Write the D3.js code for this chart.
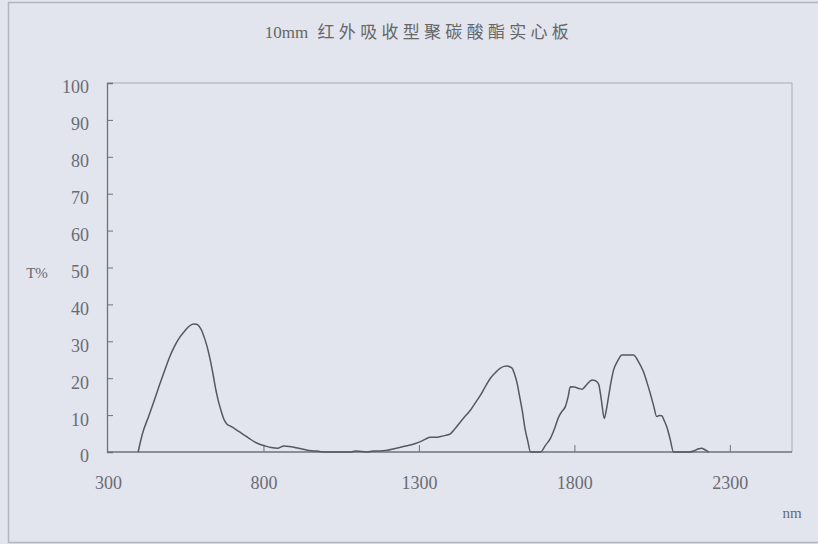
<!DOCTYPE html>
<html>
<head>
<meta charset="utf-8">
<script src="https://cdn.jsdelivr.net/npm/d3@7/dist/d3.min.js"></script>
<style>
  html, body { margin: 0; padding: 0; background: #e3e5ee; }
  svg { display: block; }
</style>
</head>
<body>
<svg id="chart" width="818" height="544"></svg>
<script>
const titlePrefix = "10mm";
const titleText = "红外吸收型聚碳酸酯实心板";
const xTicks = [300, 800, 1300, 1800, 2300];
const yTicks = [0, 10, 20, 30, 40, 50, 60, 70, 80, 90, 100];
const xLabel = "nm";
const yLabel = "T%";

const wavelength = [397, 411, 430, 449, 465, 481, 497, 513, 530, 545, 560, 575, 585, 593, 601, 609, 619, 629, 638, 647, 655, 663, 672, 682, 694, 706, 722, 738, 754, 770, 788, 807, 825, 845, 866, 882, 898, 920, 941, 962, 984, 1000, 1050, 1080, 1096, 1110, 1130, 1155, 1175, 1198, 1220, 1241, 1257, 1273, 1289, 1305, 1321, 1337, 1353, 1370, 1386, 1402, 1418, 1434, 1450, 1466, 1482, 1498, 1514, 1530, 1546, 1562, 1574, 1584, 1592, 1600, 1608, 1616, 1624, 1632, 1642, 1650, 1659, 1675, 1691, 1707, 1723, 1737, 1750, 1760, 1771, 1780, 1787, 1800, 1812, 1825, 1840, 1857, 1868, 1878, 1887, 1896, 1903, 1910, 1918, 1926, 1940, 1953, 1970, 1990, 2006, 2022, 2033, 2044, 2055, 2065, 2073, 2081, 2089, 2097, 2108, 2119, 2170, 2188, 2200, 2210, 2220, 2232];
const transmittance = [0, 5, 9.5, 14, 18, 21.8, 25.5, 28.5, 31, 32.6, 34, 34.7, 34.6, 34.1, 33, 31.2, 28.5, 24.9, 21, 16.8, 13.8, 11.4, 9, 7.6, 7, 6.4, 5.5, 4.6, 3.7, 2.8, 2.1, 1.6, 1.2, 1.0, 1.6, 1.5, 1.3, 0.9, 0.5, 0.3, 0.1, 0, 0, 0, 0.3, 0.2, 0, 0.3, 0.3, 0.5, 0.9, 1.3, 1.6, 1.9, 2.3, 2.8, 3.5, 4.0, 4.0, 4.2, 4.5, 5.0, 6.5, 8.2, 9.8, 11.4, 13.4, 15.4, 17.8, 20, 21.5, 22.7, 23.2, 23.3, 23.1, 22.7, 21, 18.6, 15, 11.4, 6, 3, 0, 0, 0, 1.8, 3.7, 6.5, 9.6, 11, 12.3, 15, 17.7, 17.6, 17.3, 17, 18.3, 19.5, 19.3, 18.4, 14, 9.1, 11.5, 15, 19, 22.2, 24.8, 26.3, 26.3, 26.3, 24.5, 21.8, 19, 15.9, 12.5, 9.6, 9.9, 9.8, 8.5, 6.9, 3.5, 0, 0, 0.4, 0.9, 1.0, 0.6, 0];

(function () {
const svg = d3.select("#chart");

// outer border
svg.append("rect").attr("x", 8.5).attr("y", 2.5).attr("width", 830).attr("height", 540)
  .attr("fill", "none").attr("stroke", "#b4b6be").attr("stroke-width", 1.5);

const pL = 107, pR = 792, pT = 83, pB = 452;
const x = d3.scaleLinear().domain([300, 2500]).range([108, pR]);
const y = d3.scaleLinear().domain([0, 100]).range([pB, pT]);

// frame (top/right light)
svg.append("path")
  .attr("d", `M${pL},${pT}H${pR}V${pB}`)
  .attr("fill", "none").attr("stroke", "#a9abb3").attr("stroke-width", 1);

const axisFont = "'Liberation Serif', 'DejaVu Serif', serif";

// title
const t = svg.append("text").attr("x", 419).attr("y", 38).attr("text-anchor", "middle")
  .attr("fill", "#666");
t.append("tspan").attr("font-family", axisFont).attr("font-size", 17).text(titlePrefix + " ");
t.append("tspan").attr("font-family", "'Noto Sans CJK SC', sans-serif")
  .attr("font-size", 17).attr("letter-spacing", 4.3).attr("dx", 5).text(titleText);

// y axis
const yAxis = d3.axisLeft(y).tickValues(yTicks).tickSize(-6).tickPadding(18).tickFormat(d3.format("d"));
const gy = svg.append("g").attr("transform", `translate(${pL},0)`).call(yAxis);
gy.select(".domain").attr("stroke", "#707279").attr("stroke-width", 1.3);
gy.selectAll(".tick line").attr("stroke", "#707279");
gy.selectAll(".tick text").attr("font-family", axisFont).attr("font-size", 18)
  .attr("fill", "#6a6c73").attr("dy", "0.55em");

// x axis
const xAxis = d3.axisBottom(x).tickValues(xTicks).tickSize(-7).tickPadding(24).tickFormat(d3.format("d"));
const gx = svg.append("g").attr("transform", `translate(0,${pB})`).call(xAxis);
gx.select(".domain").attr("d", `M${pL},0H${pR}`).attr("stroke", "#707279").attr("stroke-width", 1.3);
gx.selectAll(".tick line").attr("stroke", "#707279");
gx.selectAll(".tick").filter(d => d === 300).select("line").remove();
gx.selectAll(".tick text").attr("font-family", axisFont).attr("font-size", 18)
  .attr("fill", "#6a6c73");

// axis labels
svg.append("text").attr("x", 37).attr("y", 278).attr("text-anchor", "middle")
  .attr("font-family", axisFont).attr("font-size", 15).attr("fill", "#676970").text(yLabel);
svg.append("text").attr("x", 792).attr("y", 518).attr("text-anchor", "middle")
  .attr("font-family", axisFont).attr("font-size", 15).attr("fill", "#676970").text(xLabel);

// curve
const pts = wavelength.map((w, i) => [w, transmittance[i]]);
const line = d3.line().x(d => x(d[0])).y(d => y(d[1])).curve(d3.curveMonotoneX);
svg.append("path").datum(pts).attr("d", line)
  .attr("fill", "none").attr("stroke", "#56585e").attr("stroke-width", 1.5)
  .attr("stroke-linejoin", "round");
})();
</script>
</body>
</html>
